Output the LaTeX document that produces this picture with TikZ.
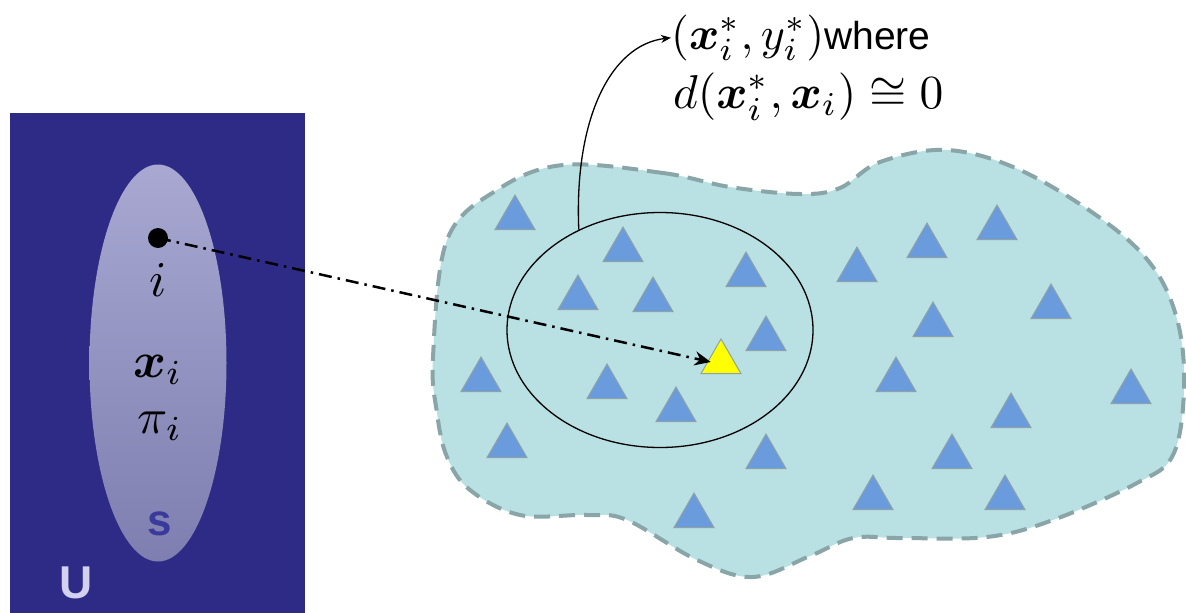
\documentclass[tikz,border=0pt]{standalone}
\usepackage{graphicx}
\usepackage{amsmath,amssymb,bm}
\usepackage{fontspec}
\newfontfamily\arial{Liberation Sans}
\newcommand{\mymath}[2]{\scalebox{#1}{$#2$}}
\usetikzlibrary{shapes.geometric,arrows.meta}
\definecolor{ublue}{HTML}{2E2B87}
\definecolor{stop}{HTML}{A8A8D2}
\definecolor{sbot}{HTML}{7E7EB0}
\definecolor{ulab}{HTML}{D2D2F0}
\definecolor{slab}{HTML}{3A3A9C}
\definecolor{blobfill}{HTML}{B9E0E3}
\definecolor{blobline}{HTML}{8AA5A8}
\definecolor{trifill}{HTML}{6A9BDD}
\definecolor{triline}{HTML}{8FA3A6}
\definecolor{yel}{HTML}{FFFF00}
\begin{document}
\begin{tikzpicture}[x=1pt,y=-1pt,
  tri/.style={regular polygon, regular polygon sides=3, minimum size=46pt, inner sep=0pt, outer sep=0pt, fill=trifill, draw=triline, line width=1pt},
  lefttxt/.style={inner sep=0pt},
  righttxt/.style={inner sep=0pt, anchor=base west}]
\useasboundingbox (0,0) rectangle (1186,613);
% left panel
\node[rectangle, fill=ublue, minimum width=295pt, minimum height=500pt, inner sep=0pt, anchor=north west] (U) at (10,113) {};
\node[ellipse, minimum width=137pt, minimum height=397pt, inner sep=0pt, top color=stop, bottom color=sbot] (S) at (158,363) {};
\node[circle, fill=black, minimum size=20pt, inner sep=0pt] (dot) at (158,238) {};
\node[lefttxt] (li) at (158,280) {\mymath{5}{i}};
\node[lefttxt] (lx) at (158,370) {\mymath{5}{\bm{x}_i}};
\node[lefttxt] (lp) at (160,426) {\mymath{5}{\pi_i}};
\node[font=\arial\bfseries\fontsize{44}{50}\selectfont, text=slab, inner sep=0pt] (ls) at (160,524) {s};
\node[font=\arial\bfseries\fontsize{46}{50}\selectfont, text=ulab, inner sep=0pt] (lu) at (76,583) {U};
% blob
\filldraw[fill=blobfill, draw=blobline, line width=4pt, dash pattern=on 16pt off 9pt]
  plot[smooth cycle, tension=0.6] coordinates {
  (563,165) (663,173) (730,187) (800,194) (840,188) (880,162) (947,150)
  (1020,170) (1103,220) (1153,267) (1178,323) (1184,390) (1173,455)
  (1137,483) (1053,520) (987,537) (900,538) (853,538) (810,556) (753,577)
  (697,560) (627,520) (587,515) (520,515) (470,490) (447,457) (437,413)
  (433,357) (447,240) (497,190)};
% triangles
\foreach \x/\y [count=\n] in {515/195, 623/227, 746/252, 578/275, 653/277, 766/316,
  481/357, 607/364, 676/387, 507/423, 766/434, 694/493,
  857/247, 927/223, 997/205, 1051/284, 933/302, 896/357, 1131/369,
  1011/393, 952/434, 873/475, 1005/475}
  \node[tri] (t\n) at (\x,\y+23) {};
\node[tri, fill=yel] (target) at (721,362) {};
% neighbourhood
\node[ellipse, draw=black, line width=1.3pt, minimum width=306pt, minimum height=235pt, inner sep=0pt] (nbh) at (660,330) {};
% text
\node[righttxt] (l1) at (671,49) {\mymath{4.6}{(\bm{x}_i^*,y_i^*)}{\fontsize{39}{44}\selectfont\arial where}};
\node[righttxt] (l2) at (673,108) {\mymath{4.75}{d(\bm{x}_i^*,\bm{x}_i)\cong 0}};
% connectors
\draw[line width=2.5pt, dash pattern=on 13pt off 6pt on 2.5pt off 6pt, -{Stealth[length=16pt,width=14pt]}] (dot.center) -- ([xshift=3pt]target.west);
\draw[line width=1.3pt, -{Stealth[length=10pt,width=8pt]}] (nbh.129) .. controls (574,120) and (610,45) .. (l1.west);
\end{tikzpicture}
\end{document}
